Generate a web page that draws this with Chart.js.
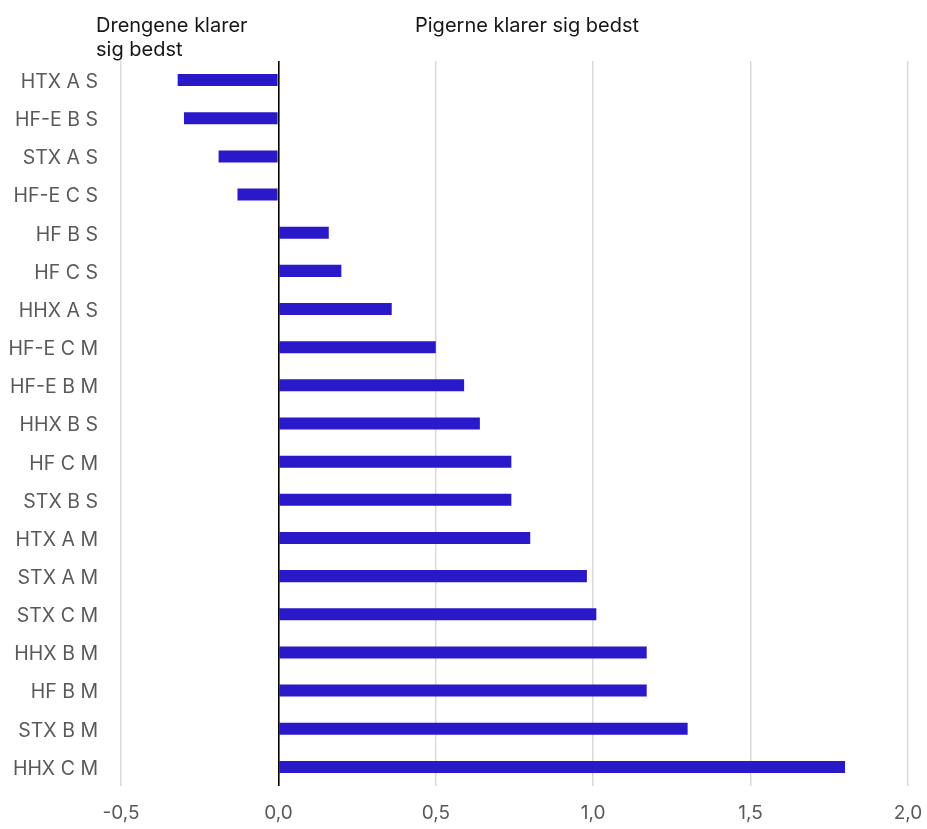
<!DOCTYPE html>
<html lang="da">
<head>
<meta charset="utf-8">
<title>Forskel mellem piger og drenge</title>
<script src="https://cdn.jsdelivr.net/npm/chart.js@4/dist/chart.umd.min.js"></script>
<style>
  html, body { margin: 0; padding: 0; background: #ffffff; }
  #wrap { width: 927px; height: 829px; position: relative; }
</style>
</head>
<body>
<div id="wrap"><canvas id="chart" width="927" height="829"></canvas></div>
<script>
// Uddannelse, niveau og fag (S = skriftlig, M = mundtlig)
const categories = [
  'HTX A S', 'HF-E B S', 'STX A S', 'HF-E C S', 'HF B S', 'HF C S', 'HHX A S',
  'HF-E C M', 'HF-E B M', 'HHX B S', 'HF C M', 'STX B S', 'HTX A M', 'STX A M',
  'STX C M', 'HHX B M', 'HF B M', 'STX B M', 'HHX C M'
];

// Karakterforskel (piger minus drenge)
const differences = [
  -0.32, -0.30, -0.19, -0.13, 0.16, 0.20, 0.36,
  0.50, 0.59, 0.64, 0.74, 0.74, 0.80, 0.98,
  1.01, 1.17, 1.17, 1.30, 1.80
];

const xTickValues = [-0.5, 0.0, 0.5, 1.0, 1.5, 2.0];
const xTickLabels = ['-0,5', '0,0', '0,5', '1,0', '1,5', '2,0'];

const leftNote = ['Drengene klarer', 'sig bedst'];
const rightNote = ['Pigerne klarer sig bedst'];

const FONT = "Inter, 'Liberation Sans', Arial, sans-serif";

// Overskrifter over hver side af nul-linjen
const notesPlugin = {
  id: 'sideNotes',
  afterDraw(chart) {
    const ctx = chart.ctx;
    ctx.save();
    ctx.fillStyle = '#161616';
    ctx.font = '20px ' + FONT;
    ctx.textAlign = 'left';
    ctx.textBaseline = 'alphabetic';
    leftNote.forEach((line, i) => ctx.fillText(line, 96, 32 + i * 24));
    rightNote.forEach((line, i) => ctx.fillText(line, 415, 32 + i * 24));
    ctx.restore();
  }
};

new Chart(document.getElementById('chart'), {
  type: 'bar',
  data: {
    labels: categories,
    datasets: [{
      data: differences,
      backgroundColor: '#2a19c9',
      borderWidth: 0,
      categoryPercentage: 1.0,
      barPercentage: 0.315
    }]
  },
  options: {
    indexAxis: 'y',
    responsive: false,
    animation: false,
    devicePixelRatio: 1,
    layout: { padding: { top: 61, right: 19, left: 0, bottom: 0 } },
    plugins: {
      legend: { display: false },
      tooltip: { enabled: false }
    },
    scales: {
      x: {
        type: 'linear',
        min: -0.5,
        max: 2.0,
        afterBuildTicks(scale) {
          scale.ticks = xTickValues.map(v => ({ value: v }));
        },
        afterFit(scale) {
          scale.height = 43;
          scale.paddingLeft = 0;
          scale.paddingRight = 0;
        },
        border: { display: false },
        grid: {
          drawTicks: false,
          color: ctx => (ctx.tick && ctx.tick.value === 0) ? '#000000' : '#d9d9d9',
          lineWidth: ctx => (ctx.tick && ctx.tick.value === 0) ? 1.6 : 1.5
        },
        ticks: {
          padding: 16,
          color: '#595959',
          font: { family: FONT, size: 19 },
          callback: (value) => {
            const i = xTickValues.findIndex(v => Math.abs(v - value) < 1e-9);
            return i >= 0 ? xTickLabels[i] : '';
          }
        }
      },
      y: {
        afterFit(scale) {
          scale.width = 121;
          scale.paddingTop = 0;
          scale.paddingBottom = 0;
        },
        border: { display: false },
        grid: { display: false, drawTicks: false },
        ticks: {
          padding: 23,
          labelOffset: 2,
          color: '#595959',
          font: { family: FONT, size: 19.5 }
        }
      }
    }
  },
  plugins: [notesPlugin]
});
</script>
</body>
</html>
